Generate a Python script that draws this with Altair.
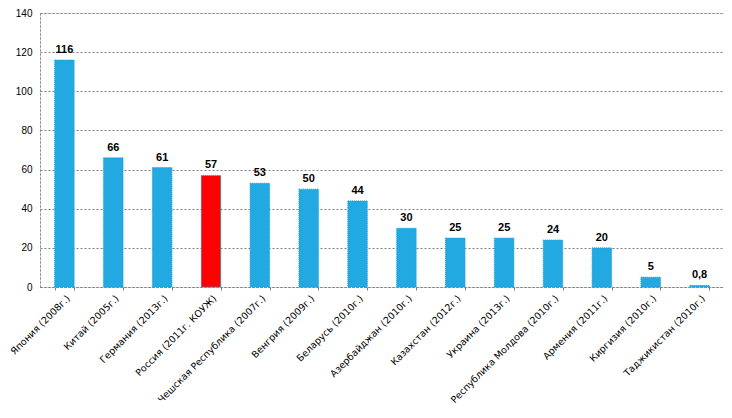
import altair as alt
import pandas as pd

countries = [
    "Япония (2008г.)", "Китай (2005г.)", "Германия (2013г.)", "Россия (2011г. КОУЖ)",
    "Чешская Республика (2007г.)", "Венгрия (2009г.)", "Беларусь (2010г.)",
    "Азербайджан (2010г.)", "Казахстан (2012г.)", "Украина (2013г.)",
    "Республика Молдова (2010г.)", "Армения (2011г.)", "Киргизия (2010г.)",
    "Таджикистан (2010г.)",
]
values = [116, 66, 61, 57, 53, 50, 44, 30, 25, 25, 24, 20, 5, 0.8]
value_labels = ["116", "66", "61", "57", "53", "50", "44", "30", "25", "25", "24", "20", "5", "0,8"]
highlight = ["Россия (2011г. КОУЖ)"]
y_ticks = [0, 20, 40, 60, 80, 100, 120, 140]

df = pd.DataFrame({"country": countries, "value": values, "label": value_labels})
df["hl"] = df["country"].isin(highlight)

FONT = "Liberation Sans"

x = alt.X("country:N", sort=countries, title=None,
          scale=alt.Scale(paddingInner=0.6, paddingOuter=0.3),
          axis=alt.Axis(labelAngle=-45, labelAlign="right", labelBaseline="top",
                        labelFont="DejaVu Sans", labelFontSize=9.5, labelColor="#000000",
                        labelPadding=3, labelLimit=300, labelOverlap=False,
                        domainColor="#808080", domainDash=[2, 2],
                        ticks=True, tickBand="extent", tickSize=3, tickColor="#808080",
                        grid=False))
y = alt.Y("value:Q", title=None,
          scale=alt.Scale(domain=[0, 140], nice=False),
          axis=alt.Axis(values=y_ticks, tickCount=8,
                        labelFont=FONT, labelFontSize=10, labelColor="#000000",
                        labelPadding=8, ticks=False, labelOverlap=False,
                        domainColor="#808080", domainDash=[2, 2],
                        gridColor="#808080", gridDash=[2, 2], gridWidth=1))

base = alt.Chart(df).encode(x=x, y=y)

bars = base.mark_bar(stroke="#1aa0dd", strokeDash=[1, 1], strokeWidth=1).encode(
    color=alt.condition("datum.hl", alt.value("#ff0000"), alt.value("#22a9e1")),
)
labels = base.mark_text(dy=-10, font=FONT, fontSize=11, fontWeight="bold",
                        color="#000000").encode(text="label:N")

chart = alt.layer(bars, labels).properties(
    width=684, height=274,
    autosize=alt.AutoSizeParams(type="none"),
    padding={"left": 32, "top": 5, "right": 0, "bottom": 125},
).configure_view(stroke=None).configure(background="#ffffff")

chart.save("out.html", embed_options={"renderer": "svg", "actions": False})
